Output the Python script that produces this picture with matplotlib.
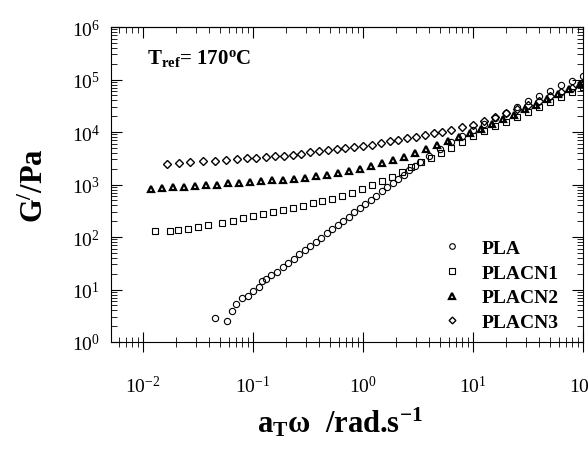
import matplotlib
matplotlib.use("Agg")
import matplotlib.pyplot as plt

plt.rcParams.update({
    'font.family': 'Liberation Serif',
    'mathtext.fontset': 'custom',
    'mathtext.rm': 'Liberation Serif',
    'mathtext.it': 'Liberation Serif:italic',
    'mathtext.bf': 'Liberation Serif:bold',
    'font.size': 14,
})

# PLA (circles)
pla_w = [0.0452, 0.0575, 0.0646, 0.0692, 0.0794, 0.0891, 0.100, 0.112, 0.120, 0.132,
         0.145, 0.166, 0.186, 0.209, 0.234, 0.263, 0.295, 0.331, 0.372, 0.417,
         0.468, 0.525, 0.589, 0.661, 0.741, 0.832, 0.933, 1.05, 1.17, 1.32,
         1.48, 1.66, 1.86, 2.09, 2.34, 2.63, 2.95, 3.31, 3.98, 5.01,
         6.31, 7.94, 10.0, 12.6, 15.8, 20.0, 25.1, 31.6, 39.8, 50.1,
         63.1, 79.4, 100]
pla_g = [2.85, 2.51, 3.89, 5.25, 6.76, 7.41, 9.55, 11.2, 14.5, 15.8,
         19.1, 21.4, 26.3, 31.6, 38.9, 46.8, 56.2, 67.6, 81.3, 97.7,
         117, 141, 170, 204, 245, 295, 355, 427, 513, 617,
         741, 891, 1070, 1290, 1550, 1860, 2240, 2690, 3470, 4680,
         6310, 8320, 11000, 14100, 18200, 23400, 30200, 38900, 49000, 61700,
         77600, 95500, 115000]

# PLACN1 (squares)
cn1_w = [0.0129, 0.0174, 0.0209, 0.0257, 0.0316, 0.0389, 0.0525, 0.0661, 0.0813, 0.100,
         0.123, 0.151, 0.186, 0.229, 0.282, 0.347, 0.427, 0.525, 0.646, 0.794,
         0.977, 1.20, 1.48, 1.82, 2.24, 2.75, 3.39, 4.17, 5.13, 6.31,
         7.94, 10.0, 12.6, 15.8, 20.0, 25.1, 31.6, 39.8, 50.1, 63.1,
         79.4, 100]
cn1_g = [129, 132, 138, 145, 155, 166, 186, 204, 229, 251,
         275, 302, 331, 363, 398, 437, 479, 537, 603, 692,
         813, 977, 1170, 1410, 1740, 2140, 2630, 3240, 3980, 5010,
         6460, 8320, 10500, 12900, 15800, 19500, 24000, 29500, 37200, 46800,
         57500, 72400]

# PLACN2 (triangles)
cn2_w = [0.0117, 0.0148, 0.0186, 0.0234, 0.0295, 0.0372, 0.0468, 0.0589, 0.0741, 0.0933,
         0.117, 0.148, 0.186, 0.234, 0.295, 0.372, 0.468, 0.589, 0.741, 0.933,
         1.17, 1.48, 1.86, 2.34, 2.95, 3.72, 4.68, 5.89, 7.41, 9.33,
         11.7, 14.8, 18.6, 23.4, 29.5, 37.2, 46.8, 58.9, 74.1, 93.3]
cn2_g = [832, 851, 891, 912, 933, 977, 1000, 1050, 1070, 1120,
         1150, 1200, 1230, 1290, 1350, 1450, 1550, 1660, 1820, 2000,
         2240, 2570, 2950, 3390, 3980, 4680, 5620, 6610, 7940, 9550,
         11500, 14100, 17400, 21400, 26900, 33100, 41700, 52500, 66100, 83200]

# PLACN3 (diamonds)
cn3_w = [0.0166, 0.0214, 0.0269, 0.0347, 0.0447, 0.0562, 0.0708, 0.0871, 0.107, 0.132,
         0.158, 0.191, 0.229, 0.275, 0.331, 0.398, 0.479, 0.575, 0.692, 0.832,
         1.00, 1.20, 1.45, 1.74, 2.09, 2.51, 3.02, 3.63, 4.37, 5.25,
         6.31, 7.94, 10.0, 12.6, 15.8, 20.0, 25.1, 31.6, 39.8, 50.1,
         63.1, 79.4, 100]
cn3_g = [2510, 2570, 2630, 2750, 2820, 2950, 3020, 3160, 3240, 3310,
         3470, 3550, 3720, 3890, 4070, 4270, 4470, 4680, 4900, 5130,
         5370, 5750, 6170, 6610, 7080, 7590, 8130, 8910, 9550, 10200,
         11000, 12300, 13800, 16200, 19100, 22900, 27500, 33100, 39800, 47900,
         57500, 69200, 83200]

fig = plt.figure(figsize=(5.88, 4.52), dpi=100)
ax = fig.add_axes([111/588, 109/452, 472/588, 315/452])

ax.plot(pla_w, pla_g, ls='none', marker='o', ms=4.5, mfc='none', mec='k', mew=0.8, label='PLA')
ax.plot(cn1_w, cn1_g, ls='none', marker='s', ms=4.2, mfc='none', mec='k', mew=0.8, label='PLACN1')
ax.plot(cn2_w, cn2_g, ls='none', marker='^', ms=5, mfc='none', mec='k', mew=1.6, label='PLACN2')
ax.plot(cn3_w, cn3_g, ls='none', marker='D', ms=3.8, mfc='none', mec='k', mew=1.0, label='PLACN3')

ax.set_xscale('log')
ax.set_yscale('log')
ax.set_xlim(0.0051, 100)
ax.set_ylim(1, 1e6)

ax.tick_params(axis='y', which='both', direction='in', right=True, pad=8, labelsize=14)
ax.tick_params(axis='y', which='major', length=8)
ax.tick_params(axis='y', which='minor', length=4)
ax.tick_params(axis='x', which='both', direction='inout', top=False, pad=17, labelsize=14)
ax.tick_params(axis='x', which='major', length=14)
ax.tick_params(axis='x', which='minor', length=7)

top = ax.secondary_xaxis('top')
top.tick_params(which='both', direction='in', labeltop=False)
top.tick_params(which='major', length=8)
top.tick_params(which='minor', length=4)

ax.set_xlabel(r'$\mathbf{a_T}$ω  /rad.s$^{\mathbf{-1}}$', fontsize=22, fontweight='bold')
ax.xaxis.set_label_coords(0.485, -0.2)
ax.set_ylabel(r'G$^{\mathbf{/}}$/Pa', fontsize=22, fontweight='bold')
ax.yaxis.set_label_coords(-0.13, 0.5)

ax.text(0.076, 0.935, r'$\mathbf{T_{ref}}$= 170$^{\mathbf{o}}$C', transform=ax.transAxes,
        fontsize=15, fontweight='bold', va='top', ha='left')

ax.legend(loc='center left', bbox_to_anchor=(0.665, 0.18), frameon=False,
          prop={'weight': 'bold', 'size': 14}, handlelength=1.0, handletextpad=1.0,
          labelspacing=0.36, markerscale=0.9, numpoints=1)

fig.savefig('out.png', dpi=100)
